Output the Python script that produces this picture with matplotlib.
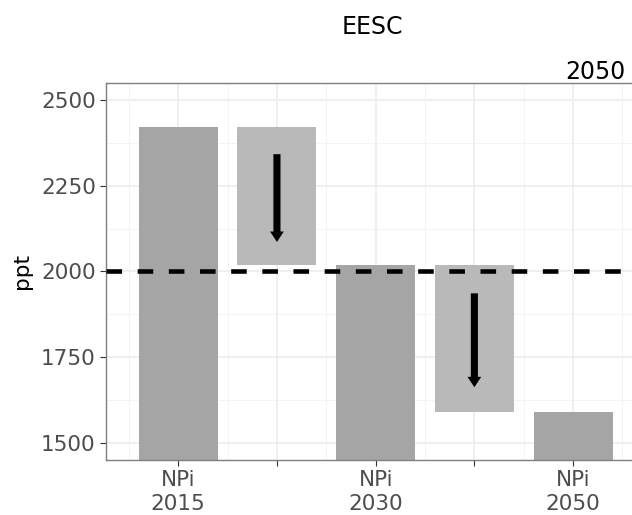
import numpy as np
import matplotlib
matplotlib.use('Agg')
import matplotlib.pyplot as plt

plt.rcParams.update({'font.family': 'DejaVu Sans'})

# data
positions = [1, 2, 3, 4, 5]
bar_bottom = [1450, 2020, 1450, 1590, 1450]
bar_top = [2420, 2420, 2020, 2020, 1590]
bar_kind = ['level', 'change', 'level', 'change', 'level']
arrow_pos = [2, 4]
arrow_start = [2342, 1936]
arrow_end = [2086, 1662]
tick_labels = ['NPi\n2015', '', 'NPi\n2030', '', 'NPi\n2050']
ref_level = 2000

fig = plt.figure(figsize=(6.32, 5.15), dpi=100)
ax = fig.add_axes([0.168, 0.107, 0.845, 0.732])

ax.set_xlim(0.27, 5.68)
ax.set_ylim(1450, 2550)

ax.set_yticks([1500, 1750, 2000, 2250, 2500])
ax.set_yticks([1625, 1875, 2125, 2375], minor=True)
ax.set_xticks(positions)
ax.set_xticks([0.5, 1.5, 2.5, 3.5, 4.5, 5.5], minor=True)
ax.set_xticklabels(tick_labels)
ax.grid(which='major', color='#ebebeb', lw=1.1, zorder=0)
ax.grid(which='minor', color='#f2f2f2', lw=0.6, zorder=0)
ax.set_axisbelow(True)

colors = {'level': '#a5a5a5', 'change': '#b9b9b9'}
for p, b, t, k in zip(positions, bar_bottom, bar_top, bar_kind):
    ax.bar(p, t - b, bottom=b, width=0.8, color=colors[k], zorder=2)

ax.axhline(ref_level, color='black', lw=3.3, ls=(0, (3.4, 3.4)), zorder=3)

for p, s, e in zip(arrow_pos, arrow_start, arrow_end):
    ax.annotate('', xy=(p, e), xytext=(p, s),
                arrowprops=dict(arrowstyle='simple,tail_width=0.34,head_width=0.66,head_length=0.5',
                                mutation_scale=15, fc='black', ec='none',
                                shrinkA=0, shrinkB=0),
                zorder=4)

for s in ax.spines.values():
    s.set_color('#7f7f7f')
    s.set_linewidth(1.0)
ax.tick_params(which='major', length=4, color='#333333', labelcolor='#4d4d4d',
               labelsize=15.5)
ax.tick_params(which='minor', length=0)
ax.set_ylabel('ppt', fontsize=15.5)
ax.yaxis.set_label_coords(-0.138, 0.5)

fig.text(0.589, 0.947, 'EESC', ha='center', va='center', fontsize=17)
fig.text(0.99, 0.86, '2050', ha='right', va='center', fontsize=17)

plt.savefig('out.png', dpi=100)
plt.close()
